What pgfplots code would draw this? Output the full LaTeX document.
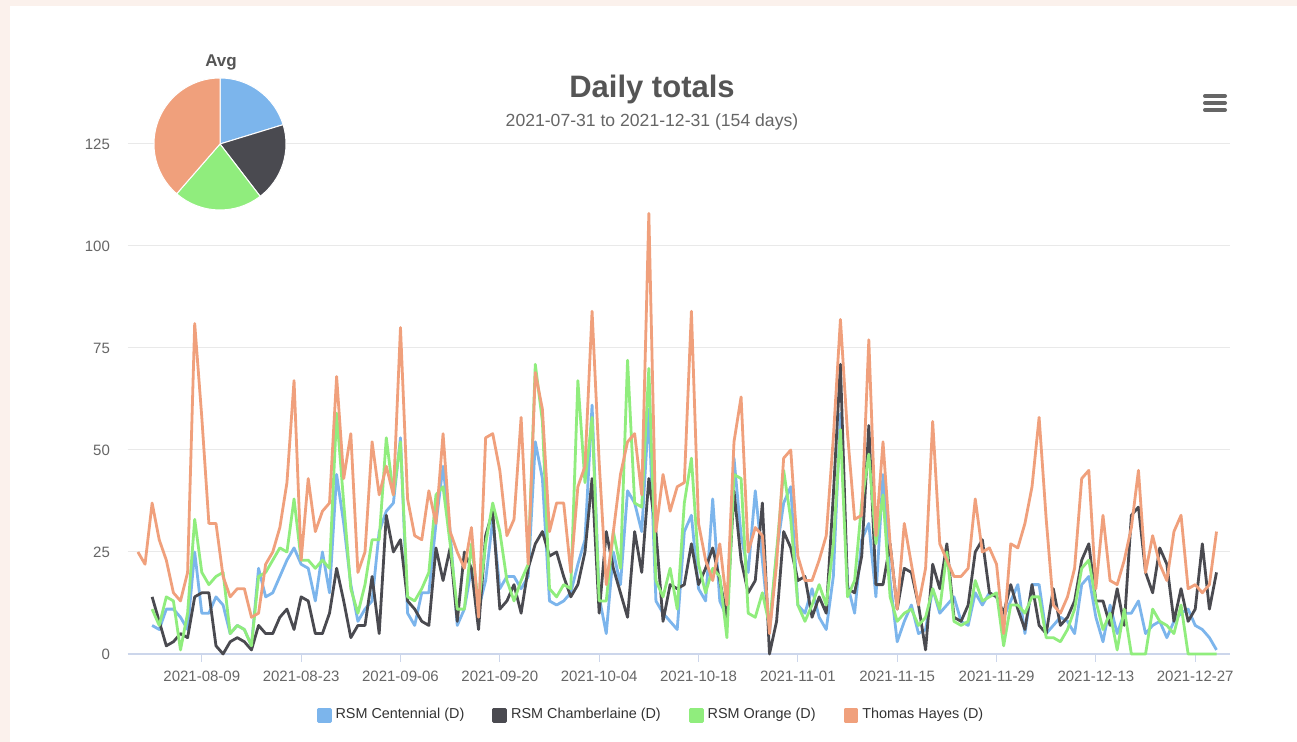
\documentclass[border=0pt]{standalone}
\usepackage{fontspec}
\setmainfont{Liberation Sans}
\usepackage{pgfplots}
\usepackage{pgfplotstable}
\pgfplotsset{compat=1.18}
\definecolor{cBlue}{HTML}{7CB5EC}
\definecolor{cBlack}{HTML}{4A4A50}
\definecolor{cGreen}{HTML}{90ED7D}
\definecolor{cOrange}{HTML}{F0A07C}
\definecolor{cGrid}{HTML}{E9E9E9}
\definecolor{cAxis}{HTML}{CCD6EB}
\definecolor{cLabel}{HTML}{666666}
\definecolor{cTitle}{HTML}{555555}
\definecolor{cLegend}{HTML}{333333}
\definecolor{cPage}{HTML}{FBF1EC}

\pgfplotstableread[row sep=\\]{x y\\
2 7\\ 3 6\\ 4 11\\ 5 11\\ 6 9\\ 7 6\\ 8 25\\ 9 10\\ 10 10\\ 11 14\\ 12 12\\ 13 5\\ 14 7\\ 15 6\\ 16 2\\ 17 21\\ 18 14\\
19 15\\ 20 19\\ 21 23\\ 22 26\\ 23 22\\ 24 21\\ 25 13\\ 26 25\\ 27 15\\ 28 44\\ 29 32\\ 30 17\\ 31 8\\ 32 11\\ 33 13\\ 34 30\\ 35 35\\ 36 37\\ 37 53\\
38 10\\ 39 7\\ 40 15\\ 41 15\\ 42 32\\ 43 46\\ 44 30\\ 45 7\\ 46 11\\ 47 21\\ 48 11\\ 49 18\\ 50 33\\ 51 16\\ 52 19\\ 53 19\\ 54 16\\ 55 19\\ 56 52\\
57 43\\ 58 13\\ 59 12\\ 60 13\\ 61 15\\ 62 22\\ 63 28\\ 64 61\\ 65 14\\ 66 5\\ 67 25\\ 68 17\\ 69 40\\ 70 37\\ 71 30\\ 72 60\\ 73 13\\ 74 10\\ 75 8\\
76 6\\ 77 30\\ 78 34\\ 79 16\\ 80 13\\ 81 38\\ 82 13\\ 83 9\\ 84 48\\ 85 29\\ 86 20\\ 87 40\\ 88 23\\ 89 5\\ 90 25\\ 91 37\\ 92 41\\ 93 12\\ 94 10\\
95 16\\ 96 9\\ 97 6\\ 98 19\\ 99 59\\ 100 17\\ 101 10\\ 102 28\\ 103 32\\ 104 14\\ 105 44\\ 106 18\\ 107 3\\ 108 8\\ 109 12\\ 110 5\\ 111 6\\ 112 16\\ 113 10\\
114 12\\ 115 14\\ 116 8\\ 117 7\\ 118 15\\ 119 12\\ 120 15\\ 121 14\\ 122 9\\ 123 13\\ 124 17\\ 125 5\\ 126 17\\ 127 17\\ 128 5\\ 129 7\\ 130 9\\ 131 8\\ 132 5\\
133 17\\ 134 19\\ 135 9\\ 136 3\\ 137 12\\ 138 5\\ 139 10\\ 140 10\\ 141 13\\ 142 5\\ 143 7\\ 144 8\\ 145 4\\ 146 8\\ 147 10\\ 148 11\\ 149 7\\ 150 6\\ 151 4\\ 152 1\\
}\tBlue

\pgfplotstableread[row sep=\\]{x y\\
2 14\\ 3 8\\ 4 2\\ 5 3\\ 6 5\\ 7 4\\ 8 14\\ 9 15\\ 10 15\\ 11 2\\ 12 0\\ 13 3\\ 14 4\\ 15 3\\ 16 1\\ 17 7\\ 18 5\\
19 5\\ 20 9\\ 21 11\\ 22 6\\ 23 14\\ 24 13\\ 25 5\\ 26 5\\ 27 10\\ 28 21\\ 29 13\\ 30 4\\ 31 7\\ 32 7\\ 33 19\\ 34 5\\ 35 34\\ 36 25\\ 37 28\\
38 13\\ 39 11\\ 40 8\\ 41 7\\ 42 26\\ 43 18\\ 44 26\\ 45 8\\ 46 25\\ 47 21\\ 48 6\\ 49 29\\ 50 35\\ 51 11\\ 52 13\\ 53 17\\ 54 10\\ 55 21\\ 56 27\\
57 30\\ 58 24\\ 59 25\\ 60 19\\ 61 14\\ 62 17\\ 63 25\\ 64 43\\ 65 10\\ 66 30\\ 67 21\\ 68 15\\ 69 9\\ 70 30\\ 71 20\\ 72 43\\ 73 30\\ 74 8\\ 75 17\\
76 16\\ 77 17\\ 78 27\\ 79 17\\ 80 21\\ 81 26\\ 82 18\\ 83 9\\ 84 40\\ 85 23\\ 86 15\\ 87 18\\ 88 37\\ 89 0\\ 90 8\\ 91 30\\ 92 26\\ 93 18\\ 94 19\\
95 9\\ 96 14\\ 97 10\\ 98 39\\ 99 71\\ 100 16\\ 101 15\\ 102 24\\ 103 56\\ 104 17\\ 105 17\\ 106 27\\ 107 11\\ 108 21\\ 109 20\\ 110 12\\ 111 1\\ 112 22\\ 113 16\\
114 27\\ 115 9\\ 116 8\\ 117 12\\ 118 25\\ 119 28\\ 120 15\\ 121 14\\ 122 10\\ 123 17\\ 124 11\\ 125 6\\ 126 17\\ 127 7\\ 128 5\\ 129 16\\ 130 7\\ 131 9\\ 132 13\\
133 23\\ 134 27\\ 135 13\\ 136 13\\ 137 7\\ 138 16\\ 139 7\\ 140 34\\ 141 36\\ 142 20\\ 143 15\\ 144 26\\ 145 22\\ 146 8\\ 147 16\\ 148 8\\ 149 11\\ 150 27\\ 151 11\\ 152 20\\
}\tBlack

\pgfplotstableread[row sep=\\]{x y\\
2 11\\ 3 7\\ 4 14\\ 5 13\\ 6 1\\ 7 10\\ 8 33\\ 9 20\\ 10 17\\ 11 19\\ 12 20\\ 13 5\\ 14 7\\ 15 6\\ 16 2\\ 17 19\\ 18 20\\
19 23\\ 20 26\\ 21 25\\ 22 38\\ 23 23\\ 24 23\\ 25 21\\ 26 23\\ 27 21\\ 28 59\\ 29 37\\ 30 16\\ 31 10\\ 32 17\\ 33 28\\ 34 28\\ 35 53\\ 36 39\\ 37 52\\
38 14\\ 39 13\\ 40 16\\ 41 20\\ 42 39\\ 43 41\\ 44 27\\ 45 11\\ 46 11\\ 47 27\\ 48 12\\ 49 27\\ 50 37\\ 51 30\\ 52 18\\ 53 13\\ 54 18\\ 55 22\\ 56 71\\
57 57\\ 58 16\\ 59 14\\ 60 17\\ 61 16\\ 62 67\\ 63 42\\ 64 58\\ 65 13\\ 66 13\\ 67 30\\ 68 21\\ 69 72\\ 70 37\\ 71 36\\ 72 70\\ 73 18\\ 74 14\\ 75 21\\
76 11\\ 77 37\\ 78 48\\ 79 22\\ 80 15\\ 81 21\\ 82 19\\ 83 4\\ 84 44\\ 85 43\\ 86 10\\ 87 9\\ 88 15\\ 89 7\\ 90 25\\ 91 45\\ 92 33\\ 93 12\\ 94 8\\
95 12\\ 96 17\\ 97 12\\ 98 27\\ 99 55\\ 100 14\\ 101 18\\ 102 37\\ 103 49\\ 104 27\\ 105 39\\ 106 14\\ 107 8\\ 108 10\\ 109 11\\ 110 7\\ 111 9\\ 112 16\\ 113 11\\
114 25\\ 115 8\\ 116 7\\ 117 8\\ 118 18\\ 119 13\\ 120 14\\ 121 15\\ 122 2\\ 123 12\\ 124 12\\ 125 10\\ 126 14\\ 127 14\\ 128 4\\ 129 4\\ 130 3\\ 131 6\\ 132 11\\
133 21\\ 134 23\\ 135 13\\ 136 6\\ 137 10\\ 138 1\\ 139 11\\ 140 0\\ 141 0\\ 142 0\\ 143 11\\ 144 8\\ 145 7\\ 146 5\\ 147 12\\ 148 0\\ 149 0\\ 150 0\\ 151 0\\ 152 0\\
}\tGreen

\pgfplotstableread[row sep=\\]{x y\\
0 25\\ 1 22\\ 2 37\\ 3 28\\ 4 23\\ 5 15\\ 6 13\\ 7 20\\ 8 81\\ 9 58\\ 10 32\\ 11 32\\ 12 19\\ 13 14\\ 14 16\\ 15 16\\ 16 9\\ 17 10\\ 18 22\\
19 25\\ 20 31\\ 21 42\\ 22 67\\ 23 23\\ 24 43\\ 25 30\\ 26 35\\ 27 37\\ 28 68\\ 29 43\\ 30 54\\ 31 20\\ 32 25\\ 33 52\\ 34 39\\ 35 46\\ 36 39\\ 37 80\\
38 38\\ 39 29\\ 40 28\\ 41 40\\ 42 32\\ 43 54\\ 44 30\\ 45 25\\ 46 21\\ 47 31\\ 48 9\\ 49 53\\ 50 54\\ 51 45\\ 52 29\\ 53 33\\ 54 58\\ 55 22\\ 56 69\\
57 60\\ 58 30\\ 59 37\\ 60 37\\ 61 20\\ 62 41\\ 63 46\\ 64 84\\ 65 47\\ 66 17\\ 67 30\\ 68 44\\ 69 52\\ 70 54\\ 71 39\\ 72 108\\ 73 30\\ 74 44\\ 75 35\\
76 41\\ 77 42\\ 78 84\\ 79 32\\ 80 23\\ 81 18\\ 82 27\\ 83 12\\ 84 52\\ 85 63\\ 86 25\\ 87 31\\ 88 29\\ 89 5\\ 90 22\\ 91 48\\ 92 50\\ 93 24\\ 94 18\\
95 18\\ 96 23\\ 97 29\\ 98 53\\ 99 82\\ 100 54\\ 101 33\\ 102 34\\ 103 77\\ 104 29\\ 105 52\\ 106 27\\ 107 11\\ 108 32\\ 109 22\\ 110 12\\ 111 21\\ 112 57\\ 113 27\\
114 23\\ 115 19\\ 116 19\\ 117 21\\ 118 38\\ 119 25\\ 120 26\\ 121 22\\ 122 5\\ 123 27\\ 124 26\\ 125 32\\ 126 41\\ 127 58\\ 128 33\\ 129 12\\ 130 10\\ 131 14\\ 132 21\\
133 43\\ 134 45\\ 135 16\\ 136 34\\ 137 18\\ 138 17\\ 139 23\\ 140 31\\ 141 45\\ 142 20\\ 143 29\\ 144 22\\ 145 18\\ 146 30\\ 147 34\\ 148 16\\ 149 17\\ 150 15\\ 151 17\\ 152 30\\
}\tOrange

\begin{document}
\begin{tikzpicture}
% page background
\fill[cPage] (-64pt,-44pt) rectangle (584.5pt,327pt);
\fill[white] (-59pt,-44pt) rectangle (584.5pt,324pt);
\useasboundingbox (-64pt,-44pt) rectangle (584.5pt,327pt);

\begin{axis}[
  at={(0pt,0pt)}, anchor=south west,
  scale only axis, width=551pt, height=255pt,
  xmin=-1.4, xmax=153.9, ymin=0, ymax=125,
  axis line style={draw=none},
  ymajorgrids, grid style={cGrid, line width=0.5pt},
  ytick={0,25,50,75,100,125},
  ytick style={draw=none},
  xtick={9,23,37,51,65,79,93,107,121,135,149},
  xticklabels={2021-08-09,2021-08-23,2021-09-06,2021-09-20,2021-10-04,2021-10-18,2021-11-01,2021-11-15,2021-11-29,2021-12-13,2021-12-27},
  xtick pos=bottom, tick align=outside, major tick length=4pt,
  xtick style={draw=cAxis, line width=0.5pt},
  /pgf/number format/assume math mode=true,
  tick label style={font=\fontsize{7.5}{9}\selectfont, text=cLabel},
  yticklabel style={xshift=-1.5pt},
  xticklabel style={yshift=-1pt},
  legend style={at={(0.4755,-0.12)}, anchor=center, draw=none, fill=none,
    legend columns=4, font=\fontsize{7.2}{8.5}\selectfont, text=cLegend,
    /tikz/every even column/.append style={column sep=12pt}},
  legend image code/.code={\fill[#1] (0pt,-3pt) rectangle (6pt,3pt);},
  every axis plot/.append style={line width=1.4pt, line join=round, mark=none},
  clip=false,
]
\draw[cAxis, line width=0.6pt] (axis cs:-1.4,0) -- (axis cs:153.9,0);
\addplot[color=cBlue] table[x=x,y=y] {\tBlue};
\addlegendentry{RSM Centennial (D)}
\addplot[color=cBlack] table[x=x,y=y] {\tBlack};
\addlegendentry{RSM Chamberlaine (D)}
\addplot[color=cGreen] table[x=x,y=y] {\tGreen};
\addlegendentry{RSM Orange (D)}
\addplot[color=cOrange] table[x=x,y=y] {\tOrange};
\addlegendentry{Thomas Hayes (D)}
\end{axis}

% titles
\node[font=\fontsize{15.5}{18}\selectfont\bfseries, text=cTitle] at (262pt,282pt) {Daily totals};
\node[font=\fontsize{8.8}{10}\selectfont, text=cLabel] at (262pt,266pt) {2021-07-31 to 2021-12-31 (154 days)};

% pie (Avg)
\node[font=\fontsize{8.5}{10}\selectfont\bfseries, text=cTitle] at (46.5pt,296pt) {Avg};
\begin{scope}[shift={(46pt,255pt)}]
\filldraw[fill=cBlue, draw=white, line width=0.5pt] (0,0) -- (90:33pt) arc[start angle=90, end angle=17, radius=33pt] -- cycle;
\filldraw[fill=cBlack, draw=white, line width=0.5pt] (0,0) -- (17:33pt) arc[start angle=17, end angle=-52.5, radius=33pt] -- cycle;
\filldraw[fill=cGreen, draw=white, line width=0.5pt] (0,0) -- (-52.5:33pt) arc[start angle=-52.5, end angle=-131, radius=33pt] -- cycle;
\filldraw[fill=cOrange, draw=white, line width=0.5pt] (0,0) -- (-131:33pt) arc[start angle=-131, end angle=-270, radius=33pt] -- cycle;
\end{scope}

% menu icon
\foreach \yy in {279,275.5,272} {
  \draw[cLabel, line width=2pt, line cap=round] (538.5pt,\yy pt) -- (548.5pt,\yy pt);
}
\end{tikzpicture}
\end{document}
